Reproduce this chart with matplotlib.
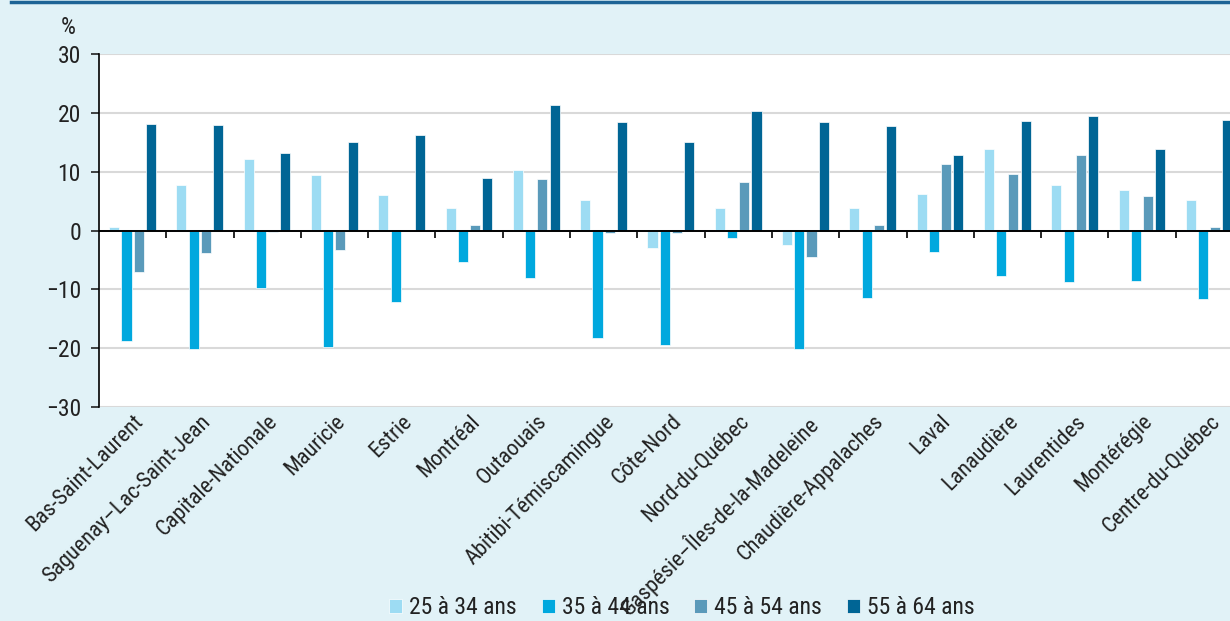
"""Variation par groupe d'âge et région administrative — diagramme à barres groupées."""

import matplotlib

matplotlib.use("Agg")
import matplotlib.pyplot as plt
import numpy as np

plt.rcParams["font.family"] = ["Roboto Condensed", "DejaVu Sans"]

regions = [
    "Bas-Saint-Laurent",
    "Saguenay–Lac-Saint-Jean",
    "Capitale-Nationale",
    "Mauricie",
    "Estrie",
    "Montréal",
    "Outaouais",
    "Abitibi-Témiscamingue",
    "Côte-Nord",
    "Nord-du-Québec",
    "Gaspésie–Îles-de-la-Madeleine",
    "Chaudière-Appalaches",
    "Laval",
    "Lanaudière",
    "Laurentides",
    "Montérégie",
    "Centre-du-Québec",
]

age_25_34 = [0.6, 7.7, 12.1, 9.5, 6.0, 3.9, 10.3, 5.2, -2.9, 3.9, -2.5, 3.8, 6.2, 13.8, 7.7, 6.8, 5.2]
age_35_44 = [-18.8, -20.1, -9.7, -19.8, -12.2, -5.3, -8.1, -18.3, -19.5, -1.3, -20.1, -11.5, -3.6, -7.7, -8.7, -8.5, -11.7]
age_45_54 = [-7.1, -3.9, -0.3, -3.3, 0.1, 0.9, 8.7, -0.4, -0.4, 8.3, -4.5, 1.0, 11.3, 9.6, 12.8, 5.8, 0.6]
age_55_64 = [18.1, 17.9, 13.1, 15.0, 16.2, 8.9, 21.3, 18.4, 15.1, 20.3, 18.5, 17.7, 12.8, 18.6, 19.4, 13.8, 18.7]

series = [age_25_34, age_35_44, age_45_54, age_55_64]
labels = ["25 à 34 ans", "35 à 44 ans", "45 à 54 ans", "55 à 64 ans"]
colors = ["#9ddcf3", "#00a8de", "#5a9aba", "#006595"]

BG = "#e1f2f7"
FS = 16
INK = "#222222"

fig = plt.figure(figsize=(12.3, 6.21), dpi=100, facecolor=BG)
# axes runs past the right edge of the figure, as in the source graphic
ax = fig.add_axes([99 / 1230, 214 / 621, 1144 / 1230, 353 / 621])
ax.set_facecolor("white")

x = np.arange(len(regions))
offsets = [-0.275, -0.092, 0.088, 0.27]
for vals, off, col, lab in zip(series, offsets, colors, labels):
    ax.bar(x + off, vals, width=0.15, color=col, edgecolor="white",
           linewidth=0.5, label=lab, zorder=3)

ax.set_xlim(-0.5, len(regions) - 0.5)
ax.set_ylim(-30, 30)
ax.set_yticks(np.arange(-30, 31, 10))
ax.set_yticklabels(["−30", "−20", "−10", "0", "10", "20", "30"])
ax.grid(axis="y", color="#d9d9d9", lw=1.5, zorder=0)
ax.tick_params(axis="y", length=6, width=1.2, pad=7, labelsize=17,
               colors=INK)

for s in ("top", "right", "bottom"):
    ax.spines[s].set_visible(False)
ax.spines["left"].set_linewidth(1.2)

ax.set_xticks(x)
ax.set_xticklabels(regions, rotation=45, ha="right", rotation_mode="anchor",
                   fontsize=FS, color=INK)
ax.tick_params(axis="x", length=0, pad=3)

# zero line with boundary ticks hanging below it
ax.axhline(0, color="black", lw=1.4, zorder=4)
zero_ax = ax.secondary_xaxis(0.5)
zero_ax.set_xticks(x[1:] - 0.5)
zero_ax.set_xticklabels([])
zero_ax.tick_params(length=6, width=1.2, direction="in")
for s in zero_ax.spines.values():
    s.set_visible(False)

fig.text(68 / 1230, 1 - 28 / 621, "%", fontsize=17, ha="center",
         va="center", color=INK)

# top rule
fig.add_artist(plt.Line2D([11 / 1230, 1], [1 - 1.5 / 621] * 2,
                          color="#1d6496", lw=2.5))

fig.legend(loc="center", bbox_to_anchor=(682 / 1230, 1 - 608 / 621),
           ncol=4, frameon=False, fontsize=17, handlelength=0.55,
           handleheight=0.55, handletextpad=0.3, columnspacing=1.05,
           labelcolor=INK)

fig.savefig("out.png", dpi=100, facecolor=BG)
